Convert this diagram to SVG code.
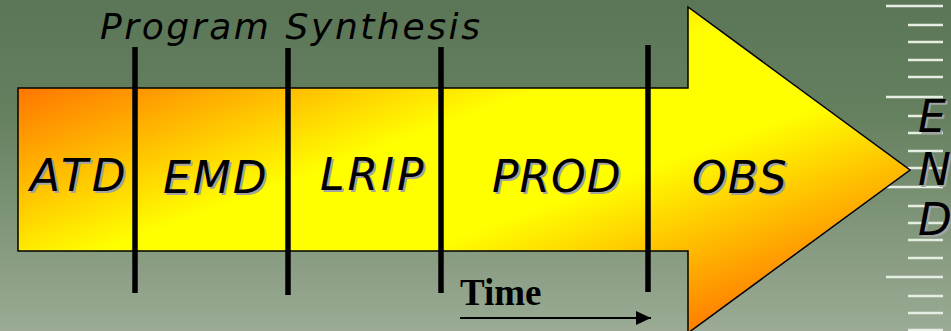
<svg xmlns="http://www.w3.org/2000/svg" width="951" height="331" viewBox="0 0 951 331">
  <defs>
    <linearGradient id="bg" x1="0" y1="0" x2="0" y2="1">
      <stop offset="0" stop-color="#5a7657"/>
      <stop offset="0.35" stop-color="#65805f"/>
      <stop offset="1" stop-color="#9bab95"/>
    </linearGradient>
    <linearGradient id="arrowFill" x1="0" y1="0" x2="1" y2="1">
      <stop offset="0.1" stop-color="#ff6a00"/>
      <stop offset="0.42" stop-color="#ffff00"/>
      <stop offset="0.6" stop-color="#ffff00"/>
      <stop offset="0.92" stop-color="#ff6a00"/>
    </linearGradient>
    <marker id="timeHead" markerWidth="15" markerHeight="14" refX="15" refY="7" orient="auto" markerUnits="userSpaceOnUse">
      <path d="M0,0 L15,7 L0,14 Z" fill="#000"/>
    </marker>
  </defs>
  <style>
    .lbl { font-family: "DejaVu Sans", Verdana, sans-serif; font-style: oblique; font-size: 44px; }
    .shadow { fill: #a3a3a3; }
    .ink { fill: #000; }
    .tick { stroke: #e6eee3; stroke-width: 2.5; }
    .div { stroke: #000; stroke-width: 5.5; }
  </style>

  <rect x="0" y="0" width="951" height="331" fill="url(#bg)"/>

  <g id="ruler">
    <line class="tick" x1="886" y1="6" x2="943" y2="6"/>
    <line class="tick" x1="908" y1="25" x2="943" y2="25"/>
    <line class="tick" x1="908" y1="42" x2="943" y2="42"/>
    <line class="tick" x1="908" y1="60" x2="943" y2="60"/>
    <line class="tick" x1="908" y1="77" x2="943" y2="77"/>
    <line class="tick" x1="886" y1="97" x2="943" y2="97"/>
    <line class="tick" x1="908" y1="116" x2="943" y2="116"/>
    <line class="tick" x1="908" y1="133" x2="943" y2="133"/>
    <line class="tick" x1="908" y1="151" x2="943" y2="151"/>
    <line class="tick" x1="908" y1="168" x2="943" y2="168"/>
    <line class="tick" x1="886" y1="187" x2="943" y2="187"/>
    <line class="tick" x1="908" y1="206" x2="943" y2="206"/>
    <line class="tick" x1="908" y1="223" x2="943" y2="223"/>
    <line class="tick" x1="908" y1="240" x2="943" y2="240"/>
    <line class="tick" x1="908" y1="258" x2="943" y2="258"/>
    <line class="tick" x1="886" y1="277" x2="943" y2="277"/>
    <line class="tick" x1="908" y1="296" x2="943" y2="296"/>
    <line class="tick" x1="908" y1="313" x2="943" y2="313"/>
    <line class="tick" x1="908" y1="330" x2="943" y2="330"/>
  </g>

  <g id="arrow">
    <path d="M18,88 L688,88 L688,7 L910,170 L688,333 L688,251 L18,251 Z" fill="url(#arrowFill)" stroke="#000" stroke-width="1.5"/>
  </g>

  <g id="title">
    <text x="100" y="39" font-family="DejaVu Sans, Verdana, sans-serif" font-style="oblique" font-size="36" textLength="380" lengthAdjust="spacing" fill="#000">Program Synthesis</text>
  </g>

  <g id="ATD">
    <text class="lbl shadow" x="32" y="193" letter-spacing="4">ATD</text>
    <text class="lbl ink" x="30" y="191" letter-spacing="4">ATD</text>
  </g>
  <g id="EMD">
    <text class="lbl shadow" x="165" y="195" letter-spacing="2">EMD</text>
    <text class="lbl ink" x="163" y="193" letter-spacing="2">EMD</text>
  </g>
  <g id="LRIP">
    <text class="lbl shadow" x="322" y="192" letter-spacing="3">LRIP</text>
    <text class="lbl ink" x="320" y="190" letter-spacing="3">LRIP</text>
  </g>
  <g id="PROD">
    <text class="lbl shadow" x="494" y="194" letter-spacing="1">PROD</text>
    <text class="lbl ink" x="492" y="192" letter-spacing="1">PROD</text>
  </g>
  <g id="OBS">
    <text class="lbl shadow" x="694" y="195" letter-spacing="1">OBS</text>
    <text class="lbl ink" x="692" y="193" letter-spacing="1">OBS</text>
  </g>
  <g id="END">
    <text class="lbl shadow" x="920" y="134">E</text>
    <text class="lbl ink" x="918" y="132">E</text>
    <text class="lbl shadow" x="920" y="187">N</text>
    <text class="lbl ink" x="918" y="185">N</text>
    <text class="lbl shadow" x="920" y="237">D</text>
    <text class="lbl ink" x="918" y="235">D</text>
  </g>

  <g id="time">
    <text x="460" y="305" font-family="Liberation Serif, Times New Roman, serif" font-weight="bold" font-size="37" fill="#000">Time</text>
  </g>

  <g id="connectors">
    <line class="div" x1="135" y1="47" x2="135" y2="293"/>
    <line class="div" x1="288" y1="48" x2="288" y2="295"/>
    <line class="div" x1="441" y1="47" x2="441" y2="293"/>
    <line class="div" x1="648" y1="45" x2="648" y2="292"/>
    <line x1="460" y1="318" x2="651" y2="318" stroke="#000" stroke-width="2" marker-end="url(#timeHead)"/>
  </g>
</svg>
